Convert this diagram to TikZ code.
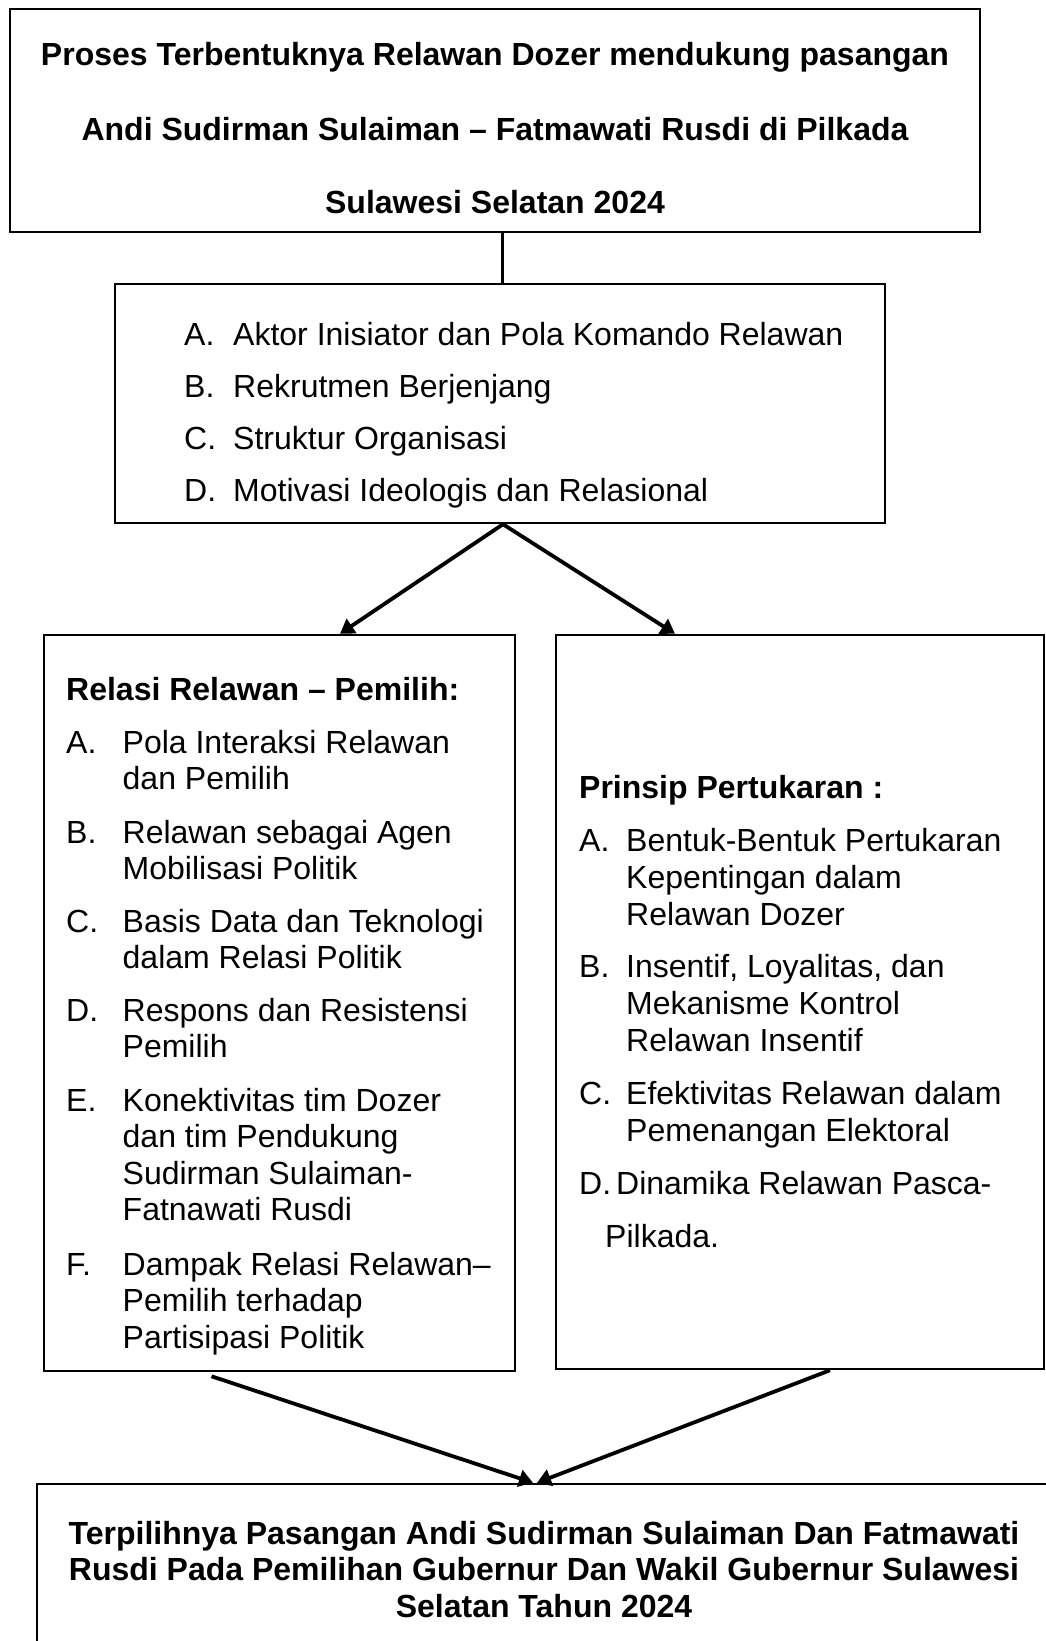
\documentclass[tikz,border=0pt]{standalone}
\usepackage{fontspec}
\setmainfont{Liberation Sans}
\usetikzlibrary{arrows.meta}

\begin{document}
\begin{tikzpicture}[x=1pt, y=-1pt,
    kotak/.style={draw, line width=2.5pt, inner sep=0pt},
    baris/.style={inner sep=0pt, anchor=west, yshift=-3pt, text height=23pt, text depth=7pt,
        font=\fontsize{32}{36.8}\selectfont},
    tebal/.style={baris, font=\fontsize{32}{36.8}\selectfont\bfseries},
    judul/.style={tebal, anchor=center},
    panah/.style={line width=3.8pt, -{Triangle[length=14pt, width=17pt]}}]

    \useasboundingbox (0,0) rectangle (1046,1641);

    % kotak
    \node[kotak, minimum width=970pt, minimum height=223pt] (proses) at (495,120.5) {};
    \node[kotak, minimum width=770pt, minimum height=239pt] (aspek) at (500,403.5) {};
    \node[kotak, minimum width=471pt, minimum height=736pt] (relasi) at (279.5,1003) {};
    \node[kotak, minimum width=488pt, minimum height=734pt] (prinsip) at (800,1002) {};
    \node[kotak, minimum width=1014pt, minimum height=176pt] (hasil) at (544,1572) {};

    % judul atas
    \foreach \y/\t [count=\i] in {54/{Proses Terbentuknya Relawan Dozer mendukung pasangan},
        129/{Andi Sudirman Sulaiman – Fatmawati Rusdi di Pilkada},
        202/{Sulawesi Selatan 2024}} {
        \node[judul] (judul\i) at (495,\y) {\t};
    }

    % aspek
    \foreach \h/\t [count=\i] in {A./Aktor Inisiator dan Pola Komando Relawan,
        B./Rekrutmen Berjenjang, C./Struktur Organisasi,
        D./Motivasi Ideologis dan Relasional} {
        \node[baris] (aspekh\i) at (184,{281.7+52.3*\i}) {\h};
        \node[baris] (aspekt\i) at (233,{281.7+52.3*\i}) {\t};
    }

    % relasi relawan - pemilih
    \node[tebal] (relasij) at (66,689) {Relasi Relawan – Pemilih:};
    \foreach \h/\y [count=\i] in {A./742, B./832, C./921, D./1010, E./1100, F./1264} {
        \node[baris] (relasih\i) at (66,\y) {\h};
    }
    \foreach \y/\t [count=\i] in {742/Pola Interaksi Relawan, 778/dan Pemilih,
        832/Relawan sebagai Agen, 868/Mobilisasi Politik,
        921/Basis Data dan Teknologi, 957/dalam Relasi Politik,
        1010/Respons dan Resistensi, 1046/Pemilih,
        1100/Konektivitas tim Dozer, 1136/dan tim Pendukung,
        1173/Sudirman Sulaiman-, 1209/Fatnawati Rusdi,
        1264/Dampak Relasi Relawan–, 1300/Pemilih terhadap,
        1337/Partisipasi Politik} {
        \node[baris] (relasit\i) at (122.5,\y) {\t};
    }

    % prinsip pertukaran
    \node[tebal] (prinsipj) at (579,787) {Prinsip Pertukaran :};
    \foreach \h/\y [count=\i] in {A./840, B./966, C./1093, D./1183} {
        \node[baris] (prinsiph\i) at (579,\y) {\h};
    }
    \foreach \y/\t [count=\i] in {840/Bentuk-Bentuk Pertukaran, 877/Kepentingan dalam,
        914/Relawan Dozer, 966/{Insentif, Loyalitas, dan}, 1003/Mekanisme Kontrol,
        1040/Relawan Insentif, 1093/Efektivitas Relawan dalam,
        1130/Pemenangan Elektoral} {
        \node[baris] (prinsipt\i) at (626,\y) {\t};
    }
    \node[baris] (prinsipt9) at (616,1183) {Dinamika Relawan Pasca-};
    \node[baris] (prinsipt10) at (605,1236) {Pilkada.};

    % hasil
    \foreach \y/\t [count=\i] in {1533/{Terpilihnya Pasangan Andi Sudirman Sulaiman Dan Fatmawati},
        1569.5/{Rusdi Pada Pemilihan Gubernur Dan Wakil Gubernur Sulawesi},
        1606/{Selatan Tahun 2024}} {
        \node[judul] (hasil\i) at (544,\y) {\t};
    }

    % garis dan panah
    \draw[line width=3pt] ([xshift=2pt]aspek.north) -- ([xshift=2pt]aspek.north |- proses.south);
    \draw[panah] ([xshift=3pt]aspek.south) -- ([xshift=-160pt]aspek.north |- relasi.north);
    \draw[panah] ([xshift=3pt]aspek.south) -- ([xshift=175pt]aspek.north |- prinsip.north);
    \draw[panah] ([xshift=-68pt, yshift=-4pt]relasi.south) -- ([xshift=-11pt]hasil.north);
    \draw[panah] ([xshift=30pt]prinsip.south) -- ([xshift=-7pt]hasil.north);
\end{tikzpicture}
\end{document}
